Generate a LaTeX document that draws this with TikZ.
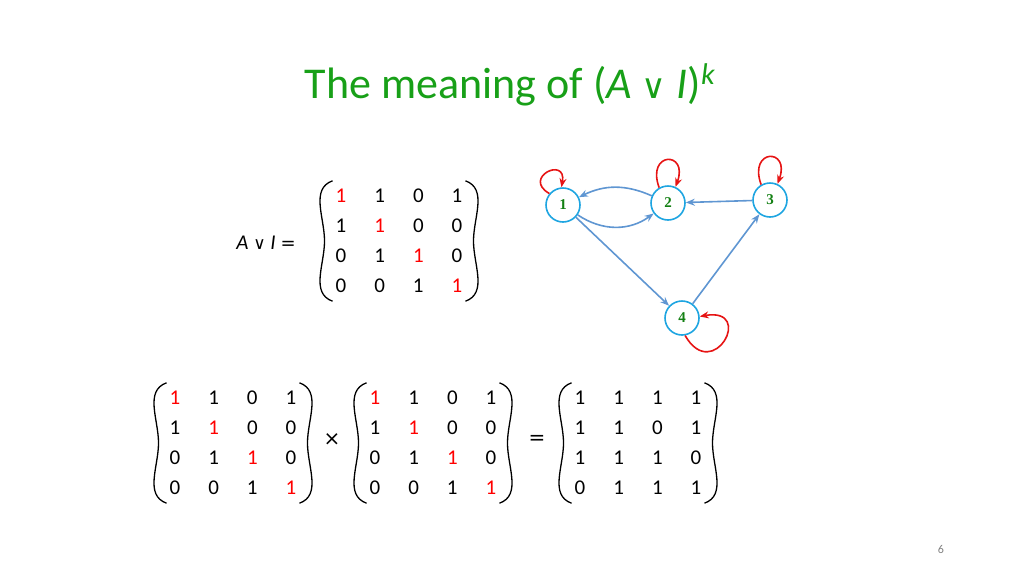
\documentclass[tikz,border=0pt]{standalone}
\usepackage{fontspec}
\setmainfont{Carlito}
\newfontfamily\serifb{Liberation Serif}
\newfontfamily\sym{DejaVu Sans}
\usetikzlibrary{arrows.meta}
\definecolor{tgreen}{RGB}{24,160,24}
\definecolor{ncyan}{RGB}{30,165,225}
\definecolor{eblue}{RGB}{95,150,210}
\definecolor{lred}{RGB}{230,20,20}
\newcommand\rr[1]{\textcolor{red}{#1}}
\newcommand\mymat[4]{\begin{tabular}{@{}cccc@{}}#1\\#2\\#3\\#4\end{tabular}}
\tikzset{vert/.style={circle,draw=ncyan,line width=1.6pt,minimum size=34pt,inner sep=0pt,font=\serifb\bfseries\fontsize{15}{15}\selectfont,text=tgreen!80!black},
 edge/.style={draw=eblue,line width=1.6pt,-{Stealth[length=9pt,width=7pt]}},
 selfl/.style={draw=lred,line width=1.6pt,-{Stealth[length=9pt,width=7pt]},looseness=6},
 mat/.style={font=\fontsize{21}{30}\selectfont,inner sep=0pt,inner xsep=9pt},
 paren/.style={line width=1.3pt}}
\newcommand\parens[1]{\draw[paren] ([xshift=6pt]#1.north west) to[out=200,in=90] ([xshift=-2pt]#1.west) to[out=-90,in=160] ([xshift=6pt]#1.south west);
 \draw[paren] ([xshift=-6pt]#1.north east) to[out=-20,in=90] ([xshift=2pt]#1.east) to[out=-90,in=20] ([xshift=-6pt]#1.south east);}
\begin{document}
\begin{tikzpicture}[x=1pt,y=-1pt]
\useasboundingbox (0,0) rectangle (1024,576);
\renewcommand\arraystretch{1.0}
\setlength\tabcolsep{14pt}
\node[font=\fontsize{44}{46}\selectfont,text=tgreen] (title) at (510,85) {The meaning of (\textit{A} {\sym\fontsize{34}{40}\selectfont∨} \textit{I})\raisebox{14pt}{\fontsize{30}{30}\selectfont\textit{k}}};
\node[mat] (lab) at (266,243) {\textit{A} {\sym\fontsize{17}{20}\selectfont∨} \textit{I} {\sym\fontsize{18}{20}\selectfont=}};
\node[mat] (m0) at (399,241) {\mymat{\rr1 & 1 & 0 & 1}{1 & \rr1 & 0 & 0}{0 & 1 & \rr1 & 0}{0 & 0 & 1 & \rr1}};
\node[mat] (m1) at (233,443) {\mymat{\rr1 & 1 & 0 & 1}{1 & \rr1 & 0 & 0}{0 & 1 & \rr1 & 0}{0 & 0 & 1 & \rr1}};
\node[mat] (times) at (332,440) {\sym\fontsize{20}{20}\selectfont×};
\node[mat] (m2) at (433,443) {\mymat{\rr1 & 1 & 0 & 1}{1 & \rr1 & 0 & 0}{0 & 1 & \rr1 & 0}{0 & 0 & 1 & \rr1}};
\node[mat] (eq) at (537,440) {\sym\fontsize{20}{20}\selectfont=};
\node[mat] (m3) at (638,443) {\mymat{1 & 1 & 1 & 1}{1 & 1 & 0 & 1}{1 & 1 & 1 & 0}{0 & 1 & 1 & 1}};
\parens{m0}\parens{m1}\parens{m2}\parens{m3}
\node[vert] (n1) at (563,205) {1};
\node[vert] (n2) at (668,203) {2};
\node[vert] (n3) at (770,200) {3};
\node[vert] (n4) at (682,318) {4};
\draw[edge] (n2) to[bend right=25] (n1);
\draw[edge] (n1) to[bend right=35] (n2);
\draw[edge] (n3) -- (n2);
\draw[edge] (n1) -- (n4);
\draw[edge] (n4) -- (n3);
\draw[selfl] (n1.140) to[out=150,in=80] (n1.95);
\draw[selfl] (n2.120) to[out=110,in=70] (n2.65);
\draw[selfl] (n3.120) to[out=110,in=70] (n3.65);
\draw[selfl] (n4.-80) to[out=-60,in=10] (n4.5);
\node[font=\fontsize{12}{12}\selectfont,text=gray] (pg) at (941,549) {6};
\end{tikzpicture}
\end{document}
